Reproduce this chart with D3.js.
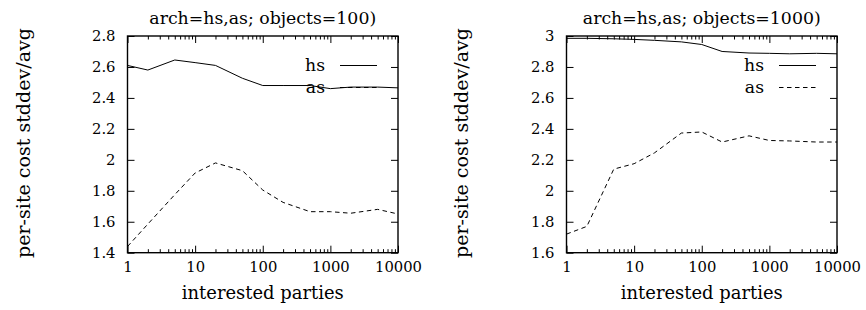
<!DOCTYPE html>
<html>
<head>
<meta charset="utf-8">
<script src="https://cdn.jsdelivr.net/npm/d3@7"></script>
<style>
  html, body { margin: 0; padding: 0; background: #fff; }
  svg text { font-family: "DejaVu Serif", serif; fill: #000; }
</style>
</head>
<body>
<svg id="chart" width="866" height="310"></svg>
<script>
// ---- data ----
const interestedParties = [1, 2, 5, 10, 20, 50, 100, 200, 500, 1000, 2000, 5000, 10000];
const hsObjects100  = [2.61, 2.58, 2.645, 2.628, 2.61, 2.527, 2.48, 2.48, 2.48, 2.46, 2.47, 2.47, 2.465];
const asObjects100  = [1.44, 1.585, 1.775, 1.915, 1.98, 1.93, 1.805, 1.725, 1.665, 1.665, 1.655, 1.68, 1.65];
const hsObjects1000 = [2.985, 2.985, 2.982, 2.978, 2.972, 2.962, 2.945, 2.9, 2.89, 2.888, 2.885, 2.888, 2.885];
const asObjects1000 = [1.72, 1.77, 2.14, 2.175, 2.245, 2.373, 2.38, 2.315, 2.355, 2.325, 2.322, 2.315, 2.315];
const xTicks = [1, 10, 100, 1000, 10000];
const yTicks100 = [1.4, 1.6, 1.8, 2, 2.2, 2.4, 2.6, 2.8];
const yTicks1000 = [1.6, 1.8, 2, 2.2, 2.4, 2.6, 2.8, 3];
const titles = ["arch=hs,as; objects=100)", "arch=hs,as; objects=1000)"];
const seriesNames = ["hs", "as"];
const xLabel = "interested parties";
const yLabel = "per-site cost stddev/avg";

const svg = d3.select("#chart");

function fitSize(str, target) {
  const t = svg.append("text").style("font-size", "20px").text(str);
  const w = t.node().getComputedTextLength();
  t.remove();
  return 20 * target / w;
}
const FS_TITLE = fitSize(titles[0], 227);
const FS_XLAB = fitSize(xLabel, 162);
const FS_YLAB = fitSize(yLabel, 230);
const FS_TICK = fitSize("10000", 47);
const FS_LEG = fitSize("hs", 20);

function minorTicks() {
  const out = [];
  for (let d = 1; d < 10000; d *= 10) {
    for (let m = 2; m <= 9; m++) out.push(d * m);
  }
  return out;
}

function panel(opts) {
  const { left, right, top, bottom, yDomain, yTicks, hs, as, title, labelX } = opts;
  const x = d3.scaleLog().domain([1, 10000]).range([left, right]);
  const y = d3.scaleLinear().domain(yDomain).range([bottom, top]);
  const g = svg.append("g");

  const styleAxis = sel => {
    sel.select(".domain").remove();
    sel.attr("font-family", null).attr("font-size", null);
    sel.selectAll("line").attr("stroke", "#000").attr("stroke-width", 1);
    sel.selectAll("text").style("font-size", FS_TICK + "px");
  };

  g.append("g").attr("transform", `translate(0,${bottom})`)
    .call(d3.axisBottom(x).tickValues(xTicks).tickSize(-7).tickPadding(9).tickFormat(d3.format("d")))
    .call(styleAxis);
  g.append("g").attr("transform", `translate(0,${bottom})`)
    .call(d3.axisBottom(x).tickValues(minorTicks()).tickSize(-3.5).tickFormat(""))
    .call(styleAxis);
  g.append("g").attr("transform", `translate(0,${top})`)
    .call(d3.axisTop(x).tickValues(xTicks).tickSize(-7).tickFormat(""))
    .call(styleAxis);
  g.append("g").attr("transform", `translate(0,${top})`)
    .call(d3.axisTop(x).tickValues(minorTicks()).tickSize(-3.5).tickFormat(""))
    .call(styleAxis);
  g.append("g").attr("transform", `translate(${left},0)`)
    .call(d3.axisLeft(y).tickValues(yTicks).tickSize(-7).tickPadding(12).tickFormat(d3.format("")))
    .call(styleAxis);
  g.append("g").attr("transform", `translate(${right},0)`)
    .call(d3.axisRight(y).tickValues(yTicks).tickSize(-7).tickFormat(""))
    .call(styleAxis);

  g.append("rect").attr("x", left).attr("y", top)
    .attr("width", right - left).attr("height", bottom - top)
    .attr("fill", "none").attr("stroke", "#000").attr("stroke-width", 1.4);

  const line = d3.line().x((d, i) => x(interestedParties[i])).y(d => y(d));
  const clipId = "clip" + Math.round(left);
  g.append("clipPath").attr("id", clipId).append("rect")
    .attr("x", left).attr("y", top).attr("width", right - left).attr("height", bottom - top);
  const lg = g.append("g").attr("clip-path", `url(#${clipId})`);
  lg.append("path").datum(hs).attr("d", line)
    .attr("fill", "none").attr("stroke", "#000").attr("stroke-width", 1);
  lg.append("path").datum(as).attr("d", line)
    .attr("fill", "none").attr("stroke", "#000").attr("stroke-width", 1)
    .attr("stroke-dasharray", "4.5,3.5");

  const legTextX = right - 73;
  const legLineX1 = right - 58, legLineX2 = right - 21;
  const legY = [top + 29.5, top + 51.5];
  [hs, as].forEach((s, i) => {
    g.append("text").attr("x", legTextX).attr("y", legY[i]).attr("dy", "0.32em")
      .attr("text-anchor", "end").style("font-size", FS_LEG + "px").text(seriesNames[i]);
    g.append("line").attr("x1", legLineX1).attr("x2", legLineX2)
      .attr("y1", legY[i]).attr("y2", legY[i])
      .attr("stroke", "#000").attr("stroke-width", 1)
      .attr("stroke-dasharray", i === 1 ? "4.5,3.5" : null);
  });

  g.append("text").attr("x", (left + right) / 2).attr("y", 24)
    .attr("text-anchor", "middle").style("font-size", FS_TITLE + "px").text(title);
  g.append("text").attr("x", (left + right) / 2).attr("y", 299)
    .attr("text-anchor", "middle").style("font-size", FS_XLAB + "px").text(xLabel);
  g.append("text").attr("transform", `translate(${labelX},143) rotate(-90)`)
    .attr("text-anchor", "middle").style("font-size", FS_YLAB + "px").text(yLabel);
}

panel({ left: 127.5, right: 398, top: 36, bottom: 252.7, yDomain: [1.4, 2.8], yTicks: yTicks100,
        hs: hsObjects100, as: asObjects100, title: titles[0], labelX: 29.5 });
panel({ left: 566.5, right: 837, top: 36, bottom: 252.7, yDomain: [1.6, 3], yTicks: yTicks1000,
        hs: hsObjects1000, as: asObjects1000, title: titles[1], labelX: 468 });
</script>
</body>
</html>
